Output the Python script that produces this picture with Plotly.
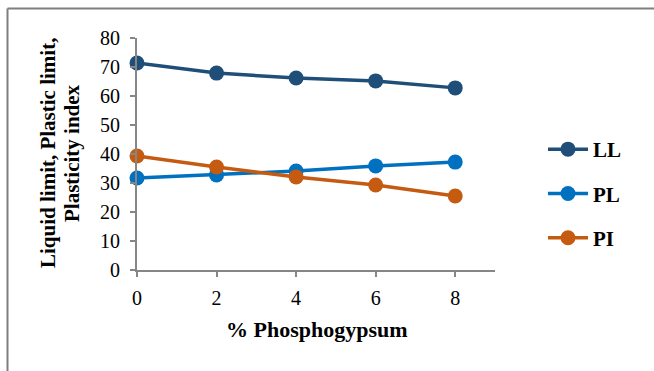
import plotly.graph_objects as go

x_vals = [0, 2, 4, 6, 8]
ll = [71.4, 67.9, 66.2, 65.2, 62.8]
pl = [31.7, 32.8, 34.1, 35.9, 37.2]
pi = [39.3, 35.5, 32.1, 29.3, 25.5]
names = ["LL", "PL", "PI"]
colors = ["#1F4E79", "#0070C0", "#C55A11"]
y_title_lines = ["Liquid limit, Plastic limit,", "Plasticity index"]
x_title = "% Phosphogypsum"

W, H = 654, 371
L, R, T, B = 137, 159, 38, 101

fig = go.Figure()
for i, (nm, ys) in enumerate(zip(names, [ll, pl, pi])):
    fig.add_trace(go.Scatter(
        x=x_vals, y=ys, name=nm, mode="lines+markers",
        line=dict(color=colors[i], width=3.5),
        marker=dict(color=colors[i], size=15),
        legendgroup=nm, cliponaxis=False,
    ))

pw = W - L - R
ph = H - T - B
def px(xp):
    return (xp - L) / pw
def py(yp):
    return (H - B - yp) / ph

serif = "Liberation Serif"
fig.update_layout(
    width=W, height=H,
    margin=dict(l=L, r=R, t=T, b=B),
    paper_bgcolor="white", plot_bgcolor="white",
    font=dict(family=serif, color="black"),
    showlegend=True,
    legend=dict(
        x=px(543), y=py(129), xanchor="left", yanchor="top",
        font=dict(size=21, family=serif, color="black", weight="bold"),
        tracegroupgap=14, itemwidth=40, bgcolor="rgba(0,0,0,0)",
    ),
    xaxis=dict(
        range=[0, 9], tickvals=[0, 2, 4, 6, 8], showgrid=False, zeroline=False,
        showline=True, linecolor="#868686", linewidth=2,
        ticks="outside", ticklen=5, tickcolor="#868686", tickwidth=2,
        tickfont=dict(size=20, family=serif, color="black"), ticklabelstandoff=4,
    ),
    yaxis=dict(
        range=[0, 80], dtick=10, showgrid=False, zeroline=False,
        showline=True, linecolor="#868686", linewidth=2,
        ticks="outside", ticklen=5, tickcolor="#868686", tickwidth=2,
        tickfont=dict(size=20, family=serif, color="black"), ticklabelstandoff=6,
    ),
    annotations=[
        dict(text=y_title_lines[0], xref="paper", yref="paper", x=px(48), y=py(153),
             xanchor="center", yanchor="middle", textangle=-90, showarrow=False,
             font=dict(size=21, family=serif, color="black", weight="bold")),
        dict(text=y_title_lines[1], xref="paper", yref="paper", x=px(72), y=py(153),
             xanchor="center", yanchor="middle", textangle=-90, showarrow=False,
             font=dict(size=21, family=serif, color="black", weight="bold")),
        dict(text=x_title, xref="paper", yref="paper", x=px(317), y=py(329),
             xanchor="center", yanchor="middle", showarrow=False,
             font=dict(size=22, family=serif, color="black", weight="bold")),
    ],
    shapes=[
        dict(type="line", xref="paper", yref="paper", x0=px(7.5), x1=px(660), y0=py(8.5), y1=py(8.5),
             line=dict(color="#7f7f7f", width=2)),
        dict(type="line", xref="paper", yref="paper", x0=px(7.5), x1=px(7.5), y0=py(8.5), y1=py(380),
             line=dict(color="#7f7f7f", width=2)),
    ],
)

fig.write_html("out.html")
